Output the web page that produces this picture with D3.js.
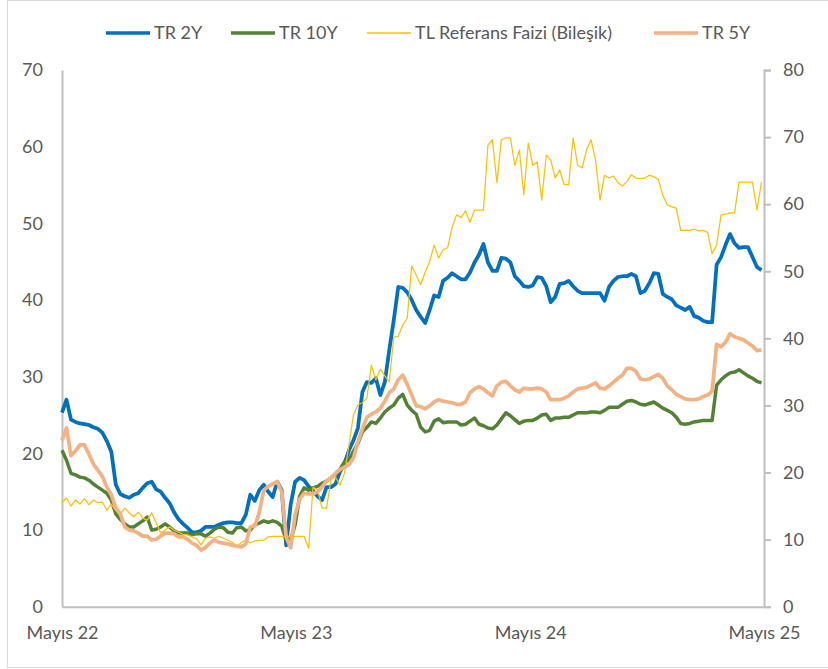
<!DOCTYPE html>
<html>
  <head>
    <meta charset="utf-8">
    <title>TR tahvil faizleri</title>
    <style>
      body { margin: 0; background: #fff; }
      svg text { font-family: Lato, "Open Sans", sans-serif; fill: #595959; }
    </style>
  </head>
  <body>
    <script src="https://d3js.org/d3.v7.min.js"></script>
    <script>
      // Haftalık veri (Mayıs 2022 - Mayıs 2025)
      var dates = d3.timeDay.range(new Date(2022, 4, 1), new Date(2025, 4, 2), 7);

      var tr2y = [25.3,27.0,24.4,24.1,23.9,23.8,23.7,23.4,23.2,22.7,21.6,20.2,15.9,14.7,14.4,14.2,14.6,14.8,15.5,16.1,
        16.3,15.3,15.0,14.2,13.5,12.3,11.4,10.8,10.3,9.7,9.7,9.9,10.4,10.4,10.4,10.7,10.9,11.0,11.0,10.9,
        10.9,12.0,14.6,13.8,15.2,15.9,15.0,14.3,16.3,15.2,8.0,13.3,16.3,16.8,16.5,15.7,15.1,14.4,13.9,15.6,
        15.6,16.0,17.6,18.7,20.4,21.7,23.3,28.0,29.3,29.2,29.8,27.6,29.3,33.5,37.4,41.7,41.6,41.0,40.0,38.7,
        37.8,37.0,38.7,40.6,40.4,42.5,42.9,43.5,43.1,42.7,42.7,43.6,44.9,45.9,47.3,44.9,43.8,43.8,45.5,45.4,
        44.9,43.1,42.5,41.8,41.7,41.9,43.0,42.9,41.8,39.7,40.4,42.1,42.2,42.5,41.8,41.2,40.9,40.9,40.9,40.9,
        40.9,39.9,41.7,42.5,43.0,43.1,43.1,43.4,43.1,40.9,41.2,42.2,43.5,43.4,40.8,40.4,40.1,39.3,39.0,38.7,
        39.1,37.9,37.7,37.3,37.1,37.1,44.6,45.6,47.2,48.6,47.4,46.8,46.9,46.9,45.6,44.3,43.9];

      var tr10y = [20.4,19.1,17.4,17.2,16.9,16.8,16.5,16.0,15.6,15.2,14.8,13.9,12.1,11.4,10.8,10.4,10.4,10.8,11.2,11.7,
        10.0,10.1,10.4,10.8,10.4,9.9,9.6,9.6,9.6,9.4,9.5,9.5,9.2,9.6,10.1,10.4,10.3,9.7,9.6,10.3,
        10.4,9.9,10.0,10.7,10.9,11.2,11.0,11.2,11.0,10.5,8.7,8.7,10.7,14.4,15.5,15.2,15.5,15.7,16.1,16.4,
        16.8,17.3,17.9,18.9,19.1,20.3,21.3,22.8,23.4,24.1,23.9,24.6,25.4,25.9,26.3,27.2,27.7,26.3,25.6,25.1,
        23.4,22.8,23.0,24.2,24.5,24.0,24.1,24.1,24.1,23.7,23.8,24.2,24.6,23.8,23.6,23.3,23.2,23.7,24.5,25.3,
        24.9,24.4,23.9,24.2,24.3,24.3,24.6,25.0,25.1,24.3,24.6,24.6,24.7,24.7,25.0,25.3,25.3,25.3,25.4,25.4,
        25.3,25.6,26.0,26.0,26.0,26.4,26.8,26.9,26.7,26.4,26.3,26.5,26.7,26.3,25.9,25.6,25.3,24.7,23.9,23.8,
        23.9,24.1,24.2,24.3,24.3,24.3,28.9,29.6,30.1,30.5,30.6,30.9,30.5,30.1,29.8,29.4,29.2];

      // TL Referans Faizi (Bileşik) - sağ eksen
      var tlref = [15.5,16.2,15.0,15.9,15.3,16.1,15.2,15.9,15.5,15.6,14.4,15.3,14.3,13.8,14.7,14.0,13.4,14.1,13.2,12.9,
        14.0,12.5,11.0,11.4,11.9,11.4,11.1,10.8,10.7,10.4,10.1,9.2,10.2,10.4,10.2,10.5,10.2,9.9,9.6,8.9,
        9.6,9.9,9.5,9.8,9.9,9.9,10.4,10.5,10.5,10.5,10.5,10.5,10.5,10.5,10.5,8.7,17.8,17.4,14.7,14.7,
        19.0,19.3,18.1,19.9,24.1,28.6,30.1,30.4,31.1,36.0,33.8,35.4,34.4,33.5,40.2,40.3,42.0,43.0,50.8,49.4,
        48.0,49.9,51.4,53.9,52.0,53.2,53.5,56.5,58.4,58.0,59.0,57.3,59.1,59.1,59.1,68.8,69.6,63.2,69.6,69.9,
        69.9,65.8,68.1,61.4,69.1,65.8,66.3,60.6,67.3,66.6,63.9,65.1,62.9,62.9,69.9,65.8,65.4,68.1,69.6,66.6,
        60.6,64.3,63.9,64.2,63.2,62.7,63.4,64.4,63.9,63.8,63.9,64.3,64.1,63.7,61.3,59.9,59.6,59.4,56.1,56.1,
        56.1,56.3,56.0,56.1,55.8,52.6,53.9,58.4,58.5,58.7,58.7,63.3,63.3,63.3,63.3,59.1,63.3];

      var tr5y = [21.7,23.3,19.7,20.3,21.1,21.1,19.9,18.6,17.8,17.0,15.6,14.6,12.9,12.1,10.4,10.0,9.9,9.6,9.2,9.2,
        8.7,8.8,9.2,9.6,9.6,9.5,9.1,9.1,8.8,8.3,8.0,7.4,7.7,8.3,8.7,8.4,8.3,8.2,8.0,7.9,
        7.8,8.2,10.4,10.5,12.3,15.2,15.7,16.0,16.3,15.0,9.1,7.7,12.0,14.0,14.8,14.7,14.7,15.0,15.6,16.4,
        16.8,17.4,17.9,18.2,18.5,19.4,21.5,23.2,24.7,25.1,25.4,25.9,26.8,27.9,28.4,29.6,30.2,29.0,27.6,26.2,
        26.1,25.8,26.2,26.7,27.0,26.8,26.7,26.6,26.4,26.4,26.7,27.9,28.4,28.7,28.4,27.9,27.5,28.8,29.3,29.4,
        28.8,28.3,28.0,28.5,28.4,28.4,28.5,28.4,28.0,27.0,27.0,27.0,27.2,27.5,28.0,28.4,28.5,28.6,28.9,29.2,
        28.5,28.4,28.8,29.3,29.8,30.2,31.1,31.1,30.7,29.7,29.6,29.7,30.0,30.3,29.8,28.8,28.3,27.7,27.4,27.1,
        27.0,27.0,27.1,27.4,27.6,28.1,34.2,33.9,34.5,35.6,35.2,35.0,34.8,34.4,34.0,33.4,33.5];

      var leftTicks = [0, 10, 20, 30, 40, 50, 60, 70];
      var rightTicks = [0, 10, 20, 30, 40, 50, 60, 70, 80];
      var xTicks = [new Date(2022, 4, 1), new Date(2023, 4, 1), new Date(2024, 4, 1), new Date(2025, 4, 1)];
      var xTickLabels = ["Mayıs 22", "Mayıs 23", "Mayıs 24", "Mayıs 25"];

      var width = 828, height = 669;
      var plotL = 62, plotR = 764, plotT = 70, plotB = 606.7;

      var svg = d3.select("body").append("svg")
        .attr("width", width)
        .attr("height", height);

      // Dış çerçeve
      svg.append("rect")
        .attr("x", 7.5).attr("y", 0.5)
        .attr("width", 840).attr("height", 667)
        .attr("fill", "none").attr("stroke", "#d9d9d9");

      var x = d3.scaleTime().domain([xTicks[0], xTicks[3]]).range([plotL, plotR]);
      var yL = d3.scaleLinear().domain([0, 70]).range([plotB, plotT]);
      var yR = d3.scaleLinear().domain([0, 80]).range([plotB, plotT]);

      // Eksenler
      var axisColor = "#bfbfbf";
      var gL = svg.append("g").attr("transform", "translate(" + plotL + ",0)")
        .call(d3.axisLeft(yL).tickValues(leftTicks).tickSize(0).tickPadding(19));
      var gR = svg.append("g").attr("transform", "translate(" + plotR + ",0)")
        .call(d3.axisRight(yR).tickValues(rightTicks).tickSize(7).tickPadding(12));
      var gX = svg.append("g").attr("transform", "translate(0," + plotB + ")")
        .call(d3.axisBottom(x).tickValues(xTicks).tickSize(0).tickPadding(20)
          .tickFormat(function(d, i) { return xTickLabels[i]; }));

      [gL, gR, gX].forEach(function(g) {
        g.select(".domain").attr("stroke", axisColor).attr("stroke-width", 2);
        g.selectAll(".tick line").attr("stroke", axisColor).attr("stroke-width", 2);
        g.selectAll("text").attr("font-size", 18).attr("fill", "#595959")
          .style("font-family", "Lato, 'Open Sans', sans-serif");
      });
      gX.selectAll("text").attr("dy", "0.71em");

      // Seriler
      var series = [
        { name: "TR 2Y", values: tr2y, y: yL, color: "#0070c0", w: 3.75 },
        { name: "TR 10Y", values: tr10y, y: yL, color: "#548235", w: 3.5 },
        { name: "TL Referans Faizi (Bileşik)", values: tlref, y: yR, color: "#ffc000", w: 1.25 },
        { name: "TR 5Y", values: tr5y, y: yL, color: "#f4b183", w: 3.75 }
      ];

      series.forEach(function(s) {
        var line = d3.line()
          .x(function(d, i) { return x(dates[i]); })
          .y(function(d) { return s.y(d); });
        svg.append("path")
          .datum(s.values)
          .attr("d", line)
          .attr("fill", "none")
          .attr("stroke", s.color)
          .attr("stroke-width", s.w)
          .attr("stroke-linejoin", "round");
      });

      // Lejant
      var legendX = [106, 231, 367, 654];
      var leg = svg.append("g");
      series.forEach(function(s, i) {
        leg.append("line")
          .attr("x1", legendX[i]).attr("x2", legendX[i] + 44)
          .attr("y1", 33).attr("y2", 33)
          .attr("stroke", s.color)
          .attr("stroke-width", s.w < 2 ? 1.5 : 3.5);
        leg.append("text")
          .attr("x", legendX[i] + 48).attr("y", 33)
          .attr("dy", "0.35em")
          .attr("font-size", 18)
          .text(s.name);
      });
    </script>
  </body>
</html>
